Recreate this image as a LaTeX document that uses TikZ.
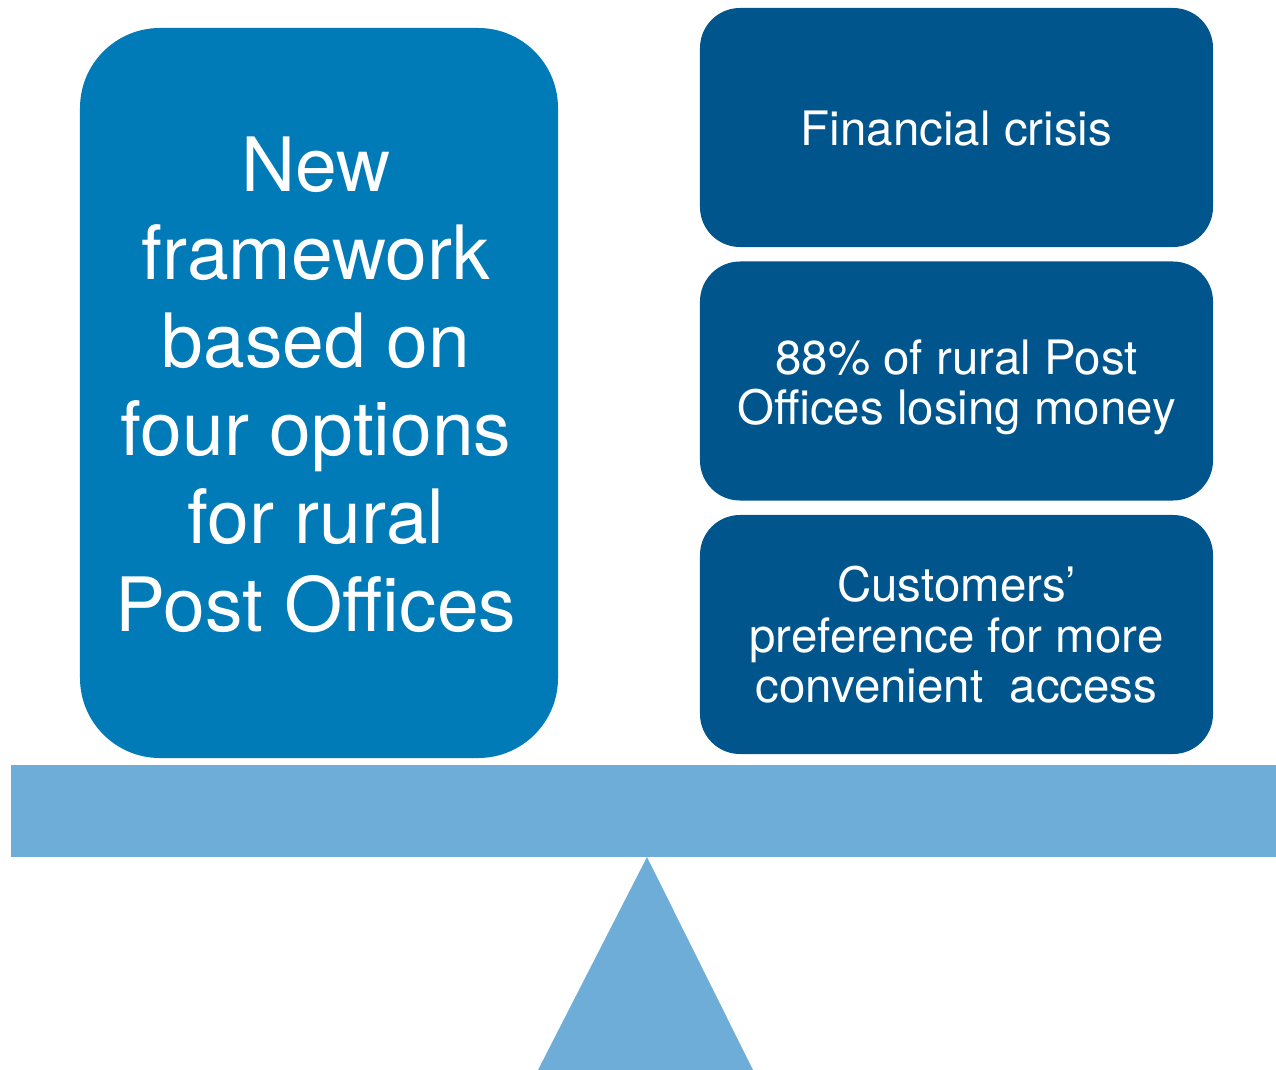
\documentclass[tikz,border=0pt]{standalone}
\usepackage{fontspec}
\setmainfont{TeX Gyre Heros}
\definecolor{leftblue}{HTML}{007BB8}
\definecolor{darkblue}{HTML}{00558C}
\definecolor{lightblue}{HTML}{6FADD9}
\begin{document}
\begin{tikzpicture}[x=0.03cm,y=-0.03cm,
  bigbox/.style={fill=leftblue,draw=none,rounded corners=2.4cm,minimum width=14.34cm,minimum height=21.9cm,inner sep=0pt},
  bigtext/.style={text=white,align=center,inner sep=0pt,font=\fontsize{64}{75}\selectfont},
  smallbox/.style={fill=darkblue,draw=none,rounded corners=1.2cm,minimum width=15.39cm,minimum height=7.17cm,inner sep=0pt},
  smalltext/.style={text=white,align=center,inner sep=0pt,font=\fontsize{40.5}{43}\selectfont}]
\useasboundingbox (0,0) rectangle (1276,1070);
\fill[lightblue] (11,765) rectangle (1276,857);
\fill[lightblue] (647,857) -- (753,1070) -- (538,1070) -- cycle;
\node[bigbox] (frame) at (319,393) {};
\node[bigtext] (frametext) at (316,385) {New\\framework\\based on\\four options\\for rural\\Post Offices};
\node[smallbox] (crisis) at (956.5,127.5) {};
\node[smalltext] (crisistext) at (956.5,129) {Financial crisis};
\node[smallbox] (loss) at (956.5,381) {};
\node[smalltext] (losstext) at (956.5,387) {88\% of rural Post\\Offices losing money};
\node[smallbox] (pref) at (956.5,634.5) {};
\node[smalltext] (preftext) at (956.5,635) {Customers’\\preference for more\\convenient\ \ access};
\end{tikzpicture}
\end{document}
